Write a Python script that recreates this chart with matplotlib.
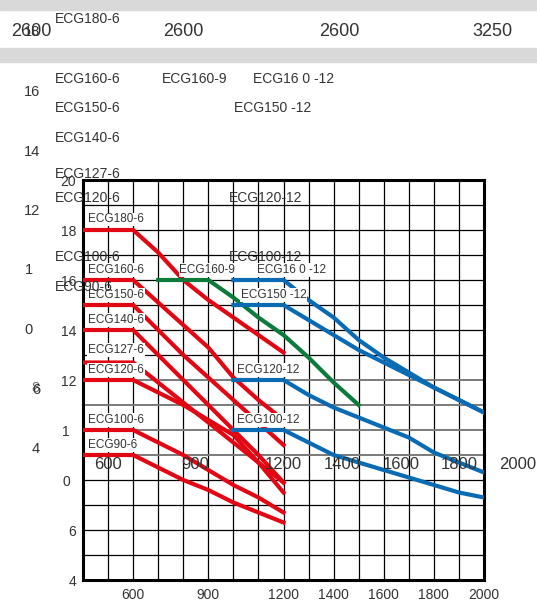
import matplotlib.pyplot as plt
from matplotlib.patches import Rectangle
from matplotlib.transforms import ScaledTranslation

plt.rcParams['font.family'] = ['Liberation Sans', 'DejaVu Sans']

W, H = 537, 601
TEXT = '#333333'
RED, GREEN, BLUE = '#e30613', '#0b7a3a', '#0a6bb5'

# span (x) vs load (y); 6 m, 9 m and 12 m series
X_6 = [400, 600, 700, 800, 900, 1000, 1100, 1200]
ECG180_6 = [18, 18, 17.1, 16.0, 15.2, 14.5, 13.8, 13.1]
ECG160_6 = [16, 16, 15.1, 14.2, 13.3, 12.1, 11.2, 10.4]
ECG150_6 = [15, 15, 14.0, 13.0, 12.1, 11.2, 10.3, 9.4]
ECG140_6 = [14, 14, 13.0, 12.0, 11.0, 10.0, 9.0, 7.9]
ECG127_6 = [12.7, 12.7, 11.9, 11.1, 10.3, 9.5, 8.7, 7.9]
ECG120_6 = [12, 12, 11.5, 11.0, 10.4, 9.8, 8.7, 7.5]
ECG100_6 = [10, 10, 9.5, 9.0, 8.4, 7.8, 7.3, 6.7]
ECG90_6 = [9, 9, 8.5, 8.0, 7.6, 7.1, 6.7, 6.3]

X_9 = [700, 900, 1000, 1100, 1200, 1300, 1400, 1500]
ECG160_9 = [16, 16, 15.3, 14.5, 13.8, 12.9, 11.9, 11.0]

X_12 = [1000, 1200, 1300, 1400, 1500, 1600, 1700, 1800, 1900, 2000]
ECG160_12 = [16, 16, 15.2, 14.5, 13.6, 12.9, 12.3, 11.7, 11.2, 10.7]
ECG150_12 = [15, 15, 14.4, 13.8, 13.2, 12.7, 12.2, 11.7, 11.2, 10.7]
ECG120_12 = [12, 12, 11.4, 10.9, 10.5, 10.1, 9.7, 9.1, 8.7, 8.3]
ECG100_12 = [10, 10, 9.5, 9.0, 8.7, 8.4, 8.1, 7.8, 7.5, 7.3]

X_TICKS = [600, 900, 1200, 1400, 1600, 1800, 2000]
Y_TICKS = [4, 6, 8, 10, 12, 14, 16, 18, 20]
Y_TICK_LABELS = ['4', '6', '0', '1', '12', '14', '16', '18', '20']
TOP_VALUES = ['2600', '2600', '2600', '3250']

SERIES = [
    (X_6, ECG180_6, RED), (X_6, ECG160_6, RED), (X_6, ECG150_6, RED),
    (X_6, ECG140_6, RED), (X_6, ECG127_6, RED), (X_6, ECG120_6, RED),
    (X_6, ECG100_6, RED), (X_6, ECG90_6, RED),
    (X_9, ECG160_9, GREEN),
    (X_12, ECG160_12, BLUE), (X_12, ECG150_12, BLUE),
    (X_12, ECG120_12, BLUE), (X_12, ECG100_12, BLUE),
]

# curve names and where they sit (data coords)
LABELS = [
    ('ECG180-6', 420, 18.42), ('ECG160-6', 420, 16.4), ('ECG160-9', 785, 16.4),
    ('ECG16 0 -12', 1095, 16.4), ('ECG150-6', 420, 15.4), ('ECG150 -12', 1030, 15.4),
    ('ECG140-6', 420, 14.4), ('ECG127-6', 420, 13.2), ('ECG120-6', 420, 12.4),
    ('ECG120-12', 1015, 12.4), ('ECG100-6', 420, 10.4), ('ECG100-12', 1015, 10.4),
    ('ECG90-6', 420, 9.4),
]


def px_box(left, top, right, bottom):
    return [left / W, 1 - bottom / H, (right - left) / W, (bottom - top) / H]


def text_layer(a, lab_size, xsize, ysize, boxed, xpad, ypad, shift):
    a.set_xlim(400, 2000)
    a.set_ylim(4, 20)
    a.set_xticks(X_TICKS, [str(v) for v in X_TICKS])
    a.set_yticks(Y_TICKS, Y_TICK_LABELS)
    a.tick_params(axis='x', length=0, pad=xpad, labelsize=xsize, labelcolor=TEXT)
    a.tick_params(axis='y', length=0, pad=ypad, labelsize=ysize, labelcolor=TEXT)
    off = ScaledTranslation(-shift / 100, 0, a.figure.dpi_scale_trans)
    for lbl in a.get_yticklabels():
        if lbl.get_text() in ('1', '0'):
            lbl.set_transform(lbl.get_transform() + off)
    for name, x, y in LABELS:
        kw = dict(bbox=dict(facecolor='white', edgecolor='none', pad=0.6)) if boxed else {}
        a.text(x, y, name, fontsize=lab_size, color=TEXT, ha='left', va='center',
               zorder=5, **kw)


fig = plt.figure(figsize=(W / 100, H / 100), dpi=100)

# grey header strip with the row of lengths
fig.add_artist(Rectangle((0, 1 - 10 / H), 1, 10 / H, transform=fig.transFigure,
                         color='#d9d9d9', zorder=-2))
fig.add_artist(Rectangle((0, 1 - 62 / H), 1, 14 / H, transform=fig.transFigure,
                         color='#d9d9d9', zorder=-2))
for cx, val in zip([31, 183, 339, 492], TOP_VALUES):
    fig.text(cx / W, 1 - 31 / H, val, ha='center', va='center', fontsize=13, color=TEXT)

ax = fig.add_axes(px_box(83, 180, 484, 580))
ax.patch.set_alpha(0)
for s in ax.spines.values():
    s.set_linewidth(2.2)
    s.set_color('black')
ax.vlines(range(500, 2000, 100), 4, 20, color='black', lw=0.9, zorder=1)
for v in range(5, 20):
    c, lw = ('#7a7a7a', 1.4) if 9 <= v <= 12 else ('black', 0.9)
    ax.hlines(v, 400, 2000, color=c, lw=lw, zorder=1)

for xs, ys, col in SERIES:
    ax.plot(xs, ys, color=col, lw=3, solid_joinstyle='miter', zorder=3)

text_layer(ax, 8.5, 10, 10, True, 5.5, 5, 6)

# enlarged copy of all the chart's texts drawn on top
ghost = fig.add_axes(px_box(49, -28.5, 518, 447.5))
ghost.patch.set_visible(False)
for s in ghost.spines.values():
    s.set_visible(False)
text_layer(ghost, 10, 12, 10.5, False, 7, 6.5, 7)
for lbl in ghost.get_yticklabels():
    if lbl.get_text() == '20':
        lbl.set_visible(False)
# the "6" on the copied axis is printed over an "8"
over = ghost.get_yaxis_transform() + ScaledTranslation(-6.5 / 72, 0, fig.dpi_scale_trans)
ghost.text(0, 6, '8', transform=over, ha='right', va='center',
           fontsize=10.5, color=TEXT, alpha=0.7)

fig.savefig('out.png', dpi=100)
